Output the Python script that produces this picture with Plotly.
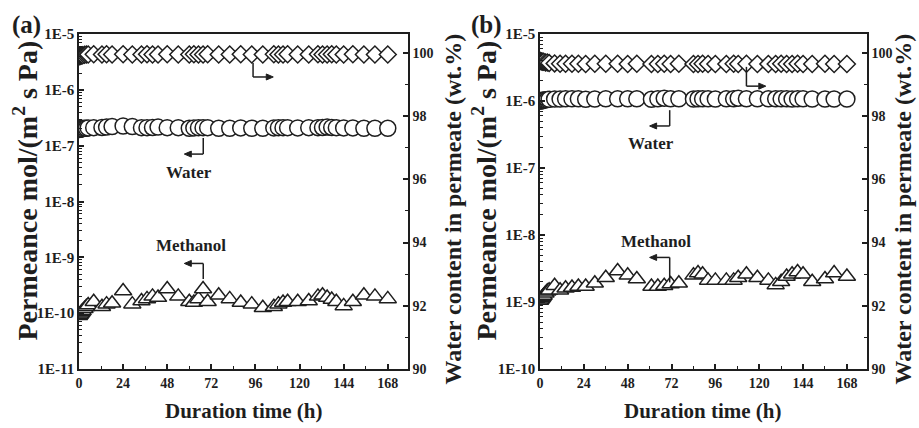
import plotly.graph_objects as go

# ---- data -----------------------------------------------------------------
# (a) time points (h) and series
time_a = [0, 0.5, 1, 1.5, 2, 3, 4, 5, 8, 12.5, 15, 18, 24, 29, 34, 37, 40, 43, 48, 54,
          60, 62.5, 65, 67.5, 70, 76, 82, 88, 94, 100, 106, 108.5, 111, 113.5, 119, 125,
          130, 132.5, 135, 137.5, 140, 144, 149, 155, 161, 168]
water_perm_a = [1.95e-7, 1.97e-7, 2.0e-7, 2.0e-7, 2.02e-7, 2.05e-7, 2.05e-7, 2.08e-7, 2.1e-7,
                2.12e-7, 2.15e-7, 2.2e-7, 2.25e-7, 2.2e-7, 2.1e-7, 2.1e-7, 2.12e-7, 2.15e-7,
                2.1e-7, 2.1e-7, 2.05e-7, 2.08e-7, 2.1e-7, 2.1e-7, 2.1e-7, 2.05e-7, 2.05e-7,
                2.08e-7, 2.05e-7, 2.05e-7, 2.08e-7, 2.1e-7, 2.1e-7, 2.1e-7, 2.08e-7, 2.1e-7,
                2.1e-7, 2.12e-7, 2.15e-7, 2.12e-7, 2.1e-7, 2.08e-7, 2.08e-7, 2.05e-7, 2.05e-7, 2.05e-7]
methanol_perm_a = [0.9e-10, 0.95e-10, 1.0e-10, 1.05e-10, 1.1e-10, 1.2e-10, 1.3e-10, 1.4e-10,
                   1.6e-10, 1.3e-10, 1.45e-10, 1.5e-10, 2.5e-10, 1.45e-10, 1.65e-10, 1.8e-10,
                   2.0e-10, 1.9e-10, 2.7e-10, 2.0e-10, 1.6e-10, 1.55e-10, 1.8e-10, 2.7e-10,
                   1.6e-10, 2.1e-10, 1.8e-10, 1.55e-10, 1.45e-10, 1.25e-10, 1.3e-10, 1.45e-10,
                   1.55e-10, 1.6e-10, 1.6e-10, 1.65e-10, 2.0e-10, 2.1e-10, 1.9e-10, 1.75e-10,
                   1.6e-10, 1.35e-10, 1.6e-10, 2.1e-10, 2.0e-10, 1.8e-10]
water_content_a = [99.9, 99.9, 99.92, 99.92, 99.93, 99.94, 99.95, 99.95, 99.96, 99.95, 99.96,
                   99.95, 99.96, 99.95, 99.95, 99.96, 99.95, 99.95, 99.96, 99.95, 99.95, 99.96,
                   99.95, 99.95, 99.96, 99.95, 99.95, 99.96, 99.95, 99.95, 99.96, 99.95, 99.95,
                   99.96, 99.95, 99.95, 99.96, 99.95, 99.95, 99.96, 99.95, 99.95, 99.96, 99.95,
                   99.95, 99.95]

# (b) time points (h) and series
time_b = [0, 0.5, 1, 1.5, 2, 3, 4, 5, 8, 11, 14, 17.5, 21, 25, 30, 36, 42.5, 48, 53, 61,
          64.5, 68, 71.5, 76, 84, 86.5, 89, 92, 96, 102, 106, 108.5, 113, 119, 125, 129,
          132, 135, 138, 141, 144, 149, 156, 161, 168]
water_perm_b = [1.0e-6, 1.0e-6, 1.02e-6, 1.02e-6, 1.03e-6, 1.04e-6, 1.05e-6, 1.06e-6, 1.07e-6,
                1.07e-6, 1.08e-6, 1.08e-6, 1.08e-6, 1.06e-6, 1.07e-6, 1.08e-6, 1.08e-6,
                1.08e-6, 1.08e-6, 1.06e-6, 1.08e-6, 1.1e-6, 1.08e-6, 1.08e-6, 1.07e-6, 1.08e-6,
                1.08e-6, 1.08e-6, 1.07e-6, 1.08e-6, 1.08e-6, 1.1e-6, 1.08e-6, 1.08e-6, 1.08e-6,
                1.08e-6, 1.08e-6, 1.08e-6, 1.07e-6, 1.08e-6, 1.08e-6, 1.07e-6, 1.07e-6, 1.07e-6, 1.07e-6]
methanol_perm_b = [1.05e-9, 1.1e-9, 1.15e-9, 1.2e-9, 1.25e-9, 1.35e-9, 1.45e-9, 1.5e-9, 1.75e-9,
                   1.5e-9, 1.6e-9, 1.65e-9, 1.7e-9, 1.7e-9, 1.9e-9, 2.3e-9, 2.9e-9, 2.5e-9,
                   2.2e-9, 1.7e-9, 1.7e-9, 1.75e-9, 1.85e-9, 1.9e-9, 2.5e-9, 2.7e-9, 2.6e-9,
                   2.1e-9, 2.1e-9, 2.1e-9, 2.1e-9, 2.3e-9, 2.6e-9, 2.3e-9, 2.1e-9, 1.8e-9,
                   2.0e-9, 2.4e-9, 2.6e-9, 2.8e-9, 2.6e-9, 2.0e-9, 2.2e-9, 2.7e-9, 2.4e-9]
water_content_b = [99.75, 99.74, 99.73, 99.72, 99.72, 99.7, 99.7, 99.68, 99.67, 99.66, 99.66,
                   99.66, 99.66, 99.65, 99.66, 99.66, 99.66, 99.65, 99.66, 99.65, 99.65, 99.66,
                   99.65, 99.66, 99.65, 99.65, 99.66, 99.65, 99.65, 99.65, 99.66, 99.65, 99.66,
                   99.65, 99.65, 99.65, 99.66, 99.65, 99.65, 99.66, 99.65, 99.65, 99.66, 99.65, 99.65]

x_ticks = [0, 24, 48, 72, 96, 120, 144, 168]
x_minor = [12, 36, 60, 84, 108, 132, 156]
right_ticks = [90, 92, 94, 96, 98, 100]
right_minor = [91, 93, 95, 97, 99]
log_ticks_a = [1e-11, 1e-10, 1e-9, 1e-8, 1e-7, 1e-6, 1e-5]
log_labels_a = ["1E-11", "1E-10", "1E-9", "1E-8", "1E-7", "1E-6", "1E-5"]
log_ticks_b = [1e-10, 1e-9, 1e-8, 1e-7, 1e-6, 1e-5]
log_labels_b = ["1E-10", "1E-9", "1E-8", "1E-7", "1E-6", "1E-5"]

# ---- styling --------------------------------------------------------------
INK = "#1e1e1e"
SERIF = "Liberation Serif"
W, H = 919, 428
X_MAX = 179
Y2_RANGE = [90, 100.6]


def minor_logs(lo, hi):
    vals = []
    for e in range(lo, hi):
        for k in range(2, 10):
            vals.append(k * 10.0 ** e)
    return vals


def open_marker(symbol, size):
    return dict(symbol=symbol, size=size, color="white",
                line=dict(color=INK, width=1.5))


fig = go.Figure()

# panel (a)
fig.add_trace(go.Scatter(x=time_a, y=water_perm_a, mode="markers",
                         marker=open_marker("circle", 16), xaxis="x", yaxis="y"))
fig.add_trace(go.Scatter(x=time_a, y=methanol_perm_a, mode="markers",
                         marker=open_marker("triangle-up", 15), xaxis="x", yaxis="y"))
fig.add_trace(go.Scatter(x=time_a, y=water_content_a, mode="markers",
                         marker=open_marker("diamond", 13), xaxis="x", yaxis="y2"))
# panel (b)
fig.add_trace(go.Scatter(x=time_b, y=water_perm_b, mode="markers",
                         marker=open_marker("circle", 16), xaxis="x2", yaxis="y3"))
fig.add_trace(go.Scatter(x=time_b, y=methanol_perm_b, mode="markers",
                         marker=open_marker("triangle-up", 15), xaxis="x2", yaxis="y3"))
fig.add_trace(go.Scatter(x=time_b, y=water_content_b, mode="markers",
                         marker=open_marker("diamond", 13), xaxis="x2", yaxis="y4"))

tickfont = dict(family=SERIF, size=14, color=INK, weight="bold")
ytickfont = dict(family=SERIF, size=15, color=INK, weight="bold")
ydom = [1 - 369 / H, 1 - 34 / H]
dom_a = [79 / W, 408 / W]
dom_b = [540 / W, 867 / W]


def xaxis_cfg(dom, anchor):
    return dict(domain=dom, anchor=anchor, range=[0, X_MAX], tickmode="array",
                tickvals=x_ticks, ticks="inside", ticklen=5, tickwidth=1.5,
                tickcolor=INK, showline=True, linecolor=INK, linewidth=1.5,
                mirror=True, showgrid=False, zeroline=False, tickfont=tickfont,
                automargin=False,
                minor=dict(tickmode="array", tickvals=x_minor, ticks="inside",
                           ticklen=3, tickwidth=1.2, tickcolor=INK, showgrid=False))


def logaxis_cfg(anchor, rng, tv, tt):
    return dict(domain=ydom, anchor=anchor, type="log", range=rng, tickmode="array",
                tickvals=tv, ticktext=tt, ticks="inside", ticklen=5, tickwidth=1.5,
                tickcolor=INK, showline=True, linecolor=INK, linewidth=1.5,
                showgrid=False, zeroline=False, tickfont=ytickfont, automargin=False,
                minor=dict(tickmode="array", tickvals=minor_logs(rng[0], rng[1]),
                           ticks="inside", ticklen=3, tickwidth=1, tickcolor=INK,
                           showgrid=False))


def rightaxis_cfg(anchor, overlay):
    return dict(overlaying=overlay, anchor=anchor, side="right", range=Y2_RANGE,
                tickmode="array", tickvals=right_ticks, ticks="inside", ticklen=5,
                tickwidth=1.5, tickcolor=INK, showline=True, linecolor=INK,
                linewidth=1.5, showgrid=False, zeroline=False, tickfont=tickfont,
                automargin=False,
                minor=dict(tickmode="array", tickvals=right_minor, ticks="inside",
                           ticklen=3, tickwidth=1.2, tickcolor=INK, showgrid=False))


fig.update_layout(
    width=W, height=H,
    margin=dict(l=0, r=0, t=0, b=0, autoexpand=False),
    paper_bgcolor="white", plot_bgcolor="white",
    showlegend=False,
    xaxis=xaxis_cfg(dom_a, "y"),
    yaxis=logaxis_cfg("x", [-11, -5], log_ticks_a, log_labels_a),
    yaxis2=rightaxis_cfg("x", "y"),
    xaxis2=xaxis_cfg(dom_b, "y3"),
    yaxis3=logaxis_cfg("x2", [-10, -5], log_ticks_b, log_labels_b),
    yaxis4=rightaxis_cfg("x2", "y3"),
)

# elbow arrows drawn on the linear right-hand axes:
# a vertical stem, a horizontal run and a small filled head
elbows = [
    # xref, yref, domain, x_stem, y_start, y_corner, x_head
    ("x", "y2", dom_a, 94.7, 99.68, 99.24, 105.7),
    ("x", "y2", dom_a, 67.6, 97.31, 96.80, 57.3),
    ("x", "y2", dom_a, 67.6, 92.85, 93.34, 57.3),
    ("x2", "y4", dom_b, 113.0, 99.56, 98.95, 123.6),
    ("x2", "y4", dom_b, 71.0, 98.19, 97.69, 60.0),
    ("x2", "y4", dom_b, 71.0, 92.74, 93.53, 60.0),
]
plot_h = (ydom[1] - ydom[0]) * H
for xr, yr, dom, xv, y0, y1, xh in elbows:
    hx = 7 * X_MAX / ((dom[1] - dom[0]) * W)              # head length, 7 px
    hy = 3 * (Y2_RANGE[1] - Y2_RANGE[0]) / plot_h          # head half-width, 3 px
    sgn = 1 if xh > xv else -1
    base = xh - sgn * hx
    line = dict(color=INK, width=1.5)
    fig.add_shape(type="line", xref=xr, yref=yr, x0=xv, x1=xv, y0=y0, y1=y1, line=line)
    fig.add_shape(type="line", xref=xr, yref=yr, x0=xv, x1=base, y0=y1, y1=y1, line=line)
    fig.add_shape(type="path", xref=xr, yref=yr,
                  path=f"M {xh} {y1} L {base} {y1 + hy} L {base} {y1 - hy} Z",
                  fillcolor=INK, line=dict(color=INK, width=1))

labelfont = dict(family=SERIF, size=17, color=INK, weight="bold")
for xr, yr, xx, yy, txt in [("x", "y2", 59.8, 96.23, "Water"),
                            ("x", "y2", 60.9, 93.90, "Methanol"),
                            ("x2", "y4", 60.6, 97.15, "Water"),
                            ("x2", "y4", 63.4, 94.02, "Methanol")]:
    fig.add_annotation(xref=xr, yref=yr, x=xx, y=yy, text=txt, showarrow=False,
                       xanchor="center", yanchor="middle", font=labelfont)

# axis titles and panel tags (paper coordinates)
titlefont = dict(family=SERIF, size=21, color=INK, weight="bold")
ytitlefont = dict(family=SERIF, size=28, color=INK, weight="bold")
rtitlefont = dict(family=SERIF, size=24, color=INK, weight="bold")


def paper_text(px, py, txt, font, angle=0):
    fig.add_annotation(xref="paper", yref="paper", x=px / W, y=1 - py / H, text=txt,
                       textangle=angle, showarrow=False, xanchor="center",
                       yanchor="middle", font=font)


for off, rx in ((0, 453), (459, 903)):
    paper_text(243.5 + off, 411, "Duration time (h)", titlefont)
    paper_text(26 + off, 190.5, "Permeance mol/(m<sup>2</sup> s Pa)", ytitlefont, -90)
    paper_text(rx, 209.5, "Water content in permeate (wt.%)", rtitlefont, -90)
tagfont = dict(family=SERIF, size=25, color=INK, weight="bold")
paper_text(26, 25, "(a)", tagfont)
paper_text(486, 25, "(b)", tagfont)

fig.write_html("out.html")
